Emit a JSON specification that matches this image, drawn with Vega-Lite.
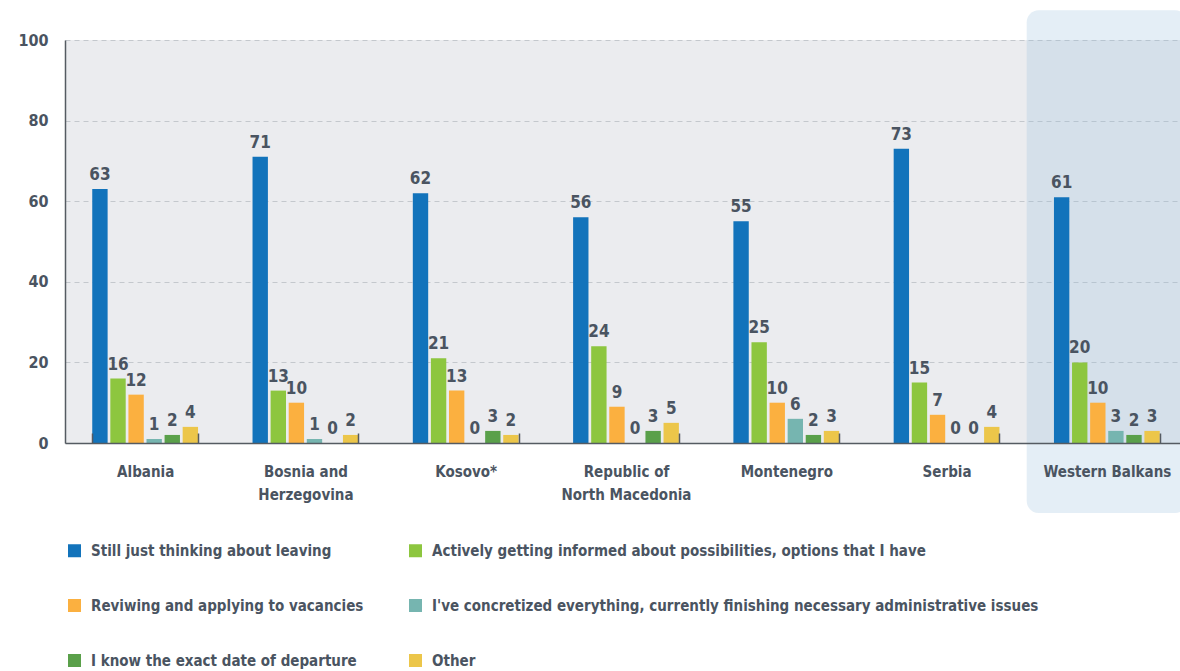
{
  "$schema": "https://vega.github.io/schema/vega-lite/v6.json",
  "width": 1115,
  "height": 403,
  "autosize": {"type": "none"},
  "padding": {"left": 65, "top": 40, "right": 0, "bottom": 228},
  "background": "white",
  "config": {
    "view": {"fill": "#ebecef", "stroke": null},
    "font": "DejaVu Sans Condensed, Roboto Condensed, Liberation Sans Narrow, Roboto",
    "axis": {"labelFont": "DejaVu Sans Condensed, Roboto Condensed, Liberation Sans Narrow, Roboto", "labelFontWeight": "bold", "labelColor": "#4a5461", "labelFontSize": 16, "title": null}
  },
  "data": {
    "values": [
      {"country": "Albania", "status": "Still just thinking about leaving", "value": 63},
      {"country": "Albania", "status": "Actively getting informed about possibilities, options that I have", "value": 16},
      {"country": "Albania", "status": "Reviwing and applying to vacancies", "value": 12},
      {"country": "Albania", "status": "I've concretized everything, currently finishing  necessary administrative issues", "value": 1},
      {"country": "Albania", "status": "I know the exact date of departure", "value": 2},
      {"country": "Albania", "status": "Other", "value": 4},
      {"country": "Bosnia and Herzegovina", "status": "Still just thinking about leaving", "value": 71},
      {"country": "Bosnia and Herzegovina", "status": "Actively getting informed about possibilities, options that I have", "value": 13},
      {"country": "Bosnia and Herzegovina", "status": "Reviwing and applying to vacancies", "value": 10},
      {"country": "Bosnia and Herzegovina", "status": "I've concretized everything, currently finishing  necessary administrative issues", "value": 1},
      {"country": "Bosnia and Herzegovina", "status": "I know the exact date of departure", "value": 0},
      {"country": "Bosnia and Herzegovina", "status": "Other", "value": 2},
      {"country": "Kosovo*", "status": "Still just thinking about leaving", "value": 62},
      {"country": "Kosovo*", "status": "Actively getting informed about possibilities, options that I have", "value": 21},
      {"country": "Kosovo*", "status": "Reviwing and applying to vacancies", "value": 13},
      {"country": "Kosovo*", "status": "I've concretized everything, currently finishing  necessary administrative issues", "value": 0},
      {"country": "Kosovo*", "status": "I know the exact date of departure", "value": 3},
      {"country": "Kosovo*", "status": "Other", "value": 2},
      {"country": "Republic of North Macedonia", "status": "Still just thinking about leaving", "value": 56},
      {"country": "Republic of North Macedonia", "status": "Actively getting informed about possibilities, options that I have", "value": 24},
      {"country": "Republic of North Macedonia", "status": "Reviwing and applying to vacancies", "value": 9},
      {"country": "Republic of North Macedonia", "status": "I've concretized everything, currently finishing  necessary administrative issues", "value": 0},
      {"country": "Republic of North Macedonia", "status": "I know the exact date of departure", "value": 3},
      {"country": "Republic of North Macedonia", "status": "Other", "value": 5},
      {"country": "Montenegro", "status": "Still just thinking about leaving", "value": 55},
      {"country": "Montenegro", "status": "Actively getting informed about possibilities, options that I have", "value": 25},
      {"country": "Montenegro", "status": "Reviwing and applying to vacancies", "value": 10},
      {"country": "Montenegro", "status": "I've concretized everything, currently finishing  necessary administrative issues", "value": 6},
      {"country": "Montenegro", "status": "I know the exact date of departure", "value": 2},
      {"country": "Montenegro", "status": "Other", "value": 3},
      {"country": "Serbia", "status": "Still just thinking about leaving", "value": 73},
      {"country": "Serbia", "status": "Actively getting informed about possibilities, options that I have", "value": 15},
      {"country": "Serbia", "status": "Reviwing and applying to vacancies", "value": 7},
      {"country": "Serbia", "status": "I've concretized everything, currently finishing  necessary administrative issues", "value": 0},
      {"country": "Serbia", "status": "I know the exact date of departure", "value": 0},
      {"country": "Serbia", "status": "Other", "value": 4},
      {"country": "Western Balkans", "status": "Still just thinking about leaving", "value": 61},
      {"country": "Western Balkans", "status": "Actively getting informed about possibilities, options that I have", "value": 20},
      {"country": "Western Balkans", "status": "Reviwing and applying to vacancies", "value": 10},
      {"country": "Western Balkans", "status": "I've concretized everything, currently finishing  necessary administrative issues", "value": 3},
      {"country": "Western Balkans", "status": "I know the exact date of departure", "value": 2},
      {"country": "Western Balkans", "status": "Other", "value": 3}
    ]
  },
  "layer": [
    {
      "data": {"values": [{"country": "Western Balkans", "top": 107.4, "bottom": -17.4}]},
      "mark": {"type": "bar", "width": {"band": 1.515}, "cornerRadius": 12, "color": "#93bbdb", "opacity": 0.25, "clip": false},
      "encoding": {
        "x": {"field": "country", "type": "nominal"},
        "y": {"field": "top", "type": "quantitative"},
        "y2": {"field": "bottom"}
      }
    },
    {
      "mark": {"type": "bar"},
      "encoding": {
        "x": {
          "field": "country", "type": "nominal",
          "scale": {"domain": ["Albania", "Bosnia and Herzegovina", "Kosovo*", "Republic of North Macedonia", "Montenegro", "Serbia", "Western Balkans"], "range": [0, 1122], "paddingInner": 0.34, "paddingOuter": 0.17},
          "axis": {
            "zindex": 1, "labelAngle": 0, "labelAlign": "center", "labelFontSize": 15, "domainColor": "#555b62", "domainWidth": 1.5, "tickColor": "#555b62", "tickWidth": 1.5, "tickSize": -10, "tickBand": "extent", "labelPadding": 31, "labelBaseline": "top", "labelLineHeight": 23, "labelLimit": 200,
            "labelExpr": "datum.label == 'Bosnia and Herzegovina' ? ['Bosnia and', 'Herzegovina'] : datum.label == 'Republic of North Macedonia' ? ['Republic of', 'North Macedonia'] : datum.label"
          }
        },
        "xOffset": {"field": "status", "type": "nominal", "sort": ["Still just thinking about leaving", "Actively getting informed about possibilities, options that I have", "Reviwing and applying to vacancies", "I've concretized everything, currently finishing  necessary administrative issues", "I know the exact date of departure", "Other"], "scale": {"paddingInner": 0.15, "paddingOuter": 0}},
        "y": {
          "field": "value", "type": "quantitative",
          "scale": {"domain": [0, 100], "nice": false},
          "axis": {"values": [0, 20, 40, 60, 80, 100], "ticks": false, "labelPadding": 17, "domainColor": "#555b62", "domainWidth": 1.5, "grid": true, "gridDash": [5, 4], "gridColor": "#c4c8cd", "gridWidth": 1}
        },
        "color": {
          "field": "status", "type": "nominal",
          "scale": {
            "domain": ["Still just thinking about leaving", "Actively getting informed about possibilities, options that I have", "Reviwing and applying to vacancies", "I've concretized everything, currently finishing  necessary administrative issues", "I know the exact date of departure", "Other"],
            "range": ["#1273bb", "#8dc63f", "#fbb040", "#76b5b0", "#5aa04a", "#ecc64a"]
          },
          "legend": {
            "title": null, "orient": "none", "legendX": 2, "legendY": 503, "columns": 2, "direction": "horizontal",
            "symbolType": "square", "symbolSize": 169, "symbolStrokeWidth": 0, "labelOffset": 9,
            "labelFont": "DejaVu Sans Condensed, Roboto Condensed, Liberation Sans Narrow, Roboto", "labelFontWeight": "bold", "labelFontSize": 15, "labelColor": "#4a5461", "labelLimit": 800,
            "columnPadding": 44, "rowPadding": 39, "padding": 0
          }
        }
      }
    },
    {
      "mark": {"type": "text", "baseline": "alphabetic", "dy": -9, "font": "DejaVu Sans Condensed, Roboto Condensed, Liberation Sans Narrow, Roboto", "fontWeight": "bold", "fontSize": 17, "color": "#4a5461"},
      "encoding": {
        "x": {"field": "country", "type": "nominal"},
        "xOffset": {"field": "status", "type": "nominal", "sort": ["Still just thinking about leaving", "Actively getting informed about possibilities, options that I have", "Reviwing and applying to vacancies", "I've concretized everything, currently finishing  necessary administrative issues", "I know the exact date of departure", "Other"]},
        "y": {"field": "value", "type": "quantitative"},
        "text": {"field": "value", "type": "quantitative"}
      }
    }
  ]
}
